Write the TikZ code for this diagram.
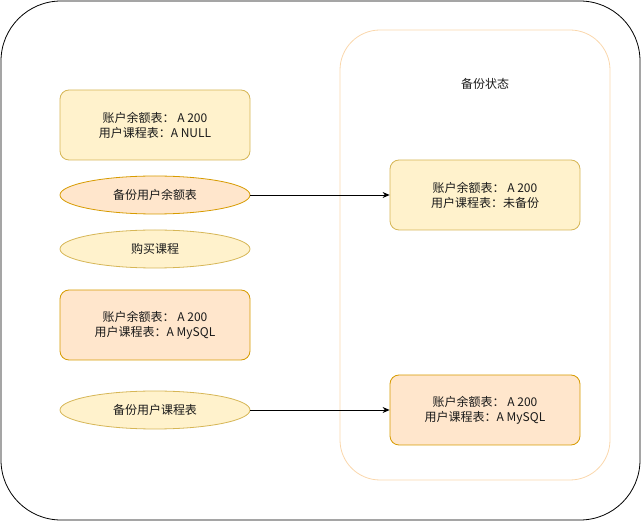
\documentclass[tikz,border=0pt]{standalone}
\usepackage{fontspec}
\setmainfont{Noto Sans CJK SC}
\usetikzlibrary{shapes.geometric,arrows.meta}
\definecolor{yfill}{HTML}{FFF2CC}
\definecolor{ydraw}{HTML}{D6B656}
\definecolor{ofill}{HTML}{FFE6CC}
\definecolor{odraw}{HTML}{D79B00}
\definecolor{cdraw}{HTML}{FAD7AC}
\definecolor{txt}{HTML}{1A1A1A}
\tikzset{
  box/.style={rounded corners=9pt, minimum width=190pt, minimum height=70pt, align=center, inner sep=0pt, font=\fontsize{12}{15}\selectfont, text=txt},
  ybox/.style={box, fill=yfill, draw=ydraw, line width=0.8pt},
  obox/.style={box, fill=ofill, draw=odraw, line width=0.8pt},
  ell/.style={ellipse, minimum width=190pt, minimum height=38pt, inner sep=0pt, font=\fontsize{12}{15}\selectfont, text=txt, line width=0.8pt},
  conn/.style={-{Stealth[length=7pt,width=6pt]}, line width=0.8pt}
}
\begin{document}
\begin{tikzpicture}[x=1pt,y=-1pt]
\useasboundingbox (0,0) rectangle (641,521);
\draw[rounded corners=60pt, line width=0.8pt] (1,1) rectangle (640,520);
\draw[cdraw, rounded corners=40pt, line width=0.8pt] (340,30) rectangle (610,480);
\node[font=\fontsize{12}{15}\selectfont, text=txt] (title) at (485,84) {备份状态};
\node[ybox] (b1) at (155,125) {账户余额表：\ A 200\\用户课程表：A NULL};
\node[ell, fill=ofill, draw=odraw] (e1) at (155,195) {备份用户余额表};
\node[ell, fill=yfill, draw=ydraw] (e2) at (155,249) {购买课程};
\node[obox] (b2) at (155,325) {账户余额表：\ A 200\\用户课程表：A MySQL};
\node[ell, fill=yfill, draw=ydraw] (e3) at (155,410) {备份用户课程表};
\node[ybox] (r1) at (485,195) {账户余额表：\ A 200\\用户课程表：未备份};
\node[obox] (r2) at (485,410) {账户余额表：\ A 200\\用户课程表：A MySQL};
\draw[conn] (e1) -- (r1);
\draw[conn] (e3) -- (r2);
\end{tikzpicture}
\end{document}
